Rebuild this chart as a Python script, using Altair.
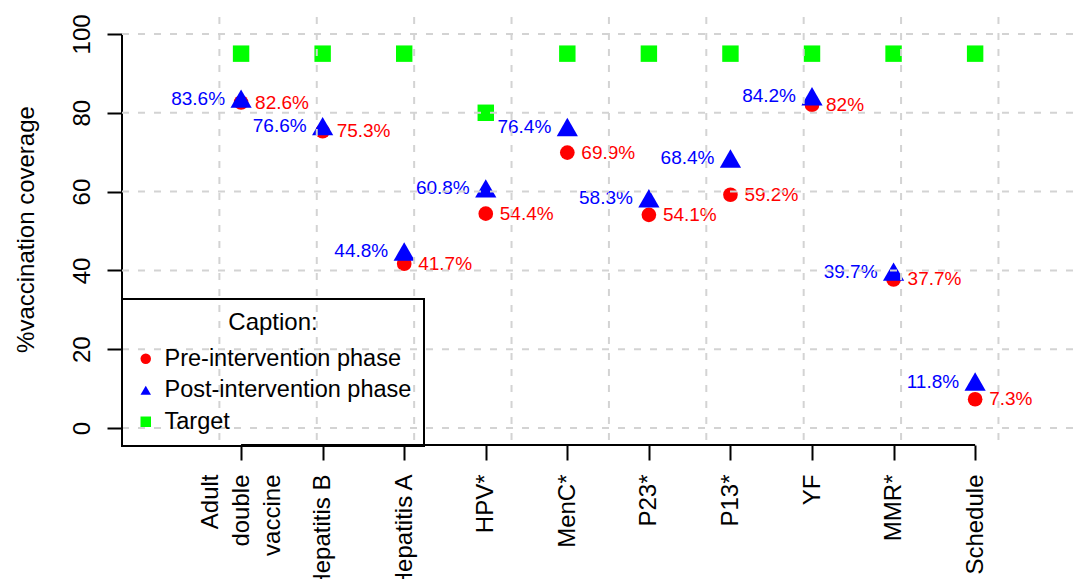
import json
import altair as alt
import numpy as np
import pandas as pd

FONT = "Liberation Sans"

CATEGORIES = ["Adult\ndouble\nvaccine", "Hepatitis B", "Hepatitis A", "HPV*", "MenC*",
              "P23*", "P13*", "YF", "MMR*", "Schedule"]
PRE = [82.6, 75.3, 41.7, 54.4, 69.9, 54.1, 59.2, 82.0, 37.7, 7.3]
POST = [83.6, 76.6, 44.8, 60.8, 76.4, 58.3, 68.4, 84.2, 39.7, 11.8]
TARGET = [95, 95, 95, 80, 95, 95, 95, 95, 95, 95]
SERIES = ["Pre-intervention phase", "Post-intervention phase", "Target"]
COLORS = ["#ff0000", "#0000ff", "#00ff00"]
SHAPES = ["circle", "triangle-up", "square"]
SIZES = [215, 450, 270]
Y_TICKS = [0, 20, 40, 60, 80, 100]
X_TICKS = list(range(1, len(CATEGORIES) + 1))

# full R plotting range (x) and the visible part of it
R_XRANGE = (-0.46, 11.48)
X_DOMAIN = [-0.46, 11.20]
Y_DOMAIN = [-4.3, 104.3]
GRID_X = list(np.linspace(R_XRANGE[0], R_XRANGE[1], 11)[1:-1])
LINE_H = 31

rows = []
for name, vals in zip(SERIES, [PRE, POST, TARGET]):
    for i, v in enumerate(vals):
        rows.append({"pos": i + 1, "value": v, "series": name, "label": f"{v:g}%"})
df = pd.DataFrame(rows)

label_lines = [c.split("\n") if "\n" in c else c for c in CATEGORIES]
label_expr = json.dumps(label_lines) + "[datum.value - 1]"
# centre multi-line labels on their tick
n_lines = [len(c.split("\n")) for c in CATEGORIES]
offs = [-(n - 1) / 2 * LINE_H for n in n_lines]

x_scale = alt.Scale(domain=X_DOMAIN, nice=False, zero=False)
y_scale = alt.Scale(domain=Y_DOMAIN, nice=False, zero=False)

x_axis = alt.Axis(
    title=None, values=X_TICKS, labelExpr=label_expr, domain=False, grid=False,
    tickSize=15, tickWidth=2, tickColor="black",
    labelAngle=270, labelAlign="right", labelBaseline="middle", labelPadding=14,
    labelOffset={"condition": {"test": "datum.value == 1", "value": offs[0]}, "value": 0},
    labelFont=FONT, labelFontSize=24, labelColor="black", labelLineHeight=LINE_H,
    labelOverlap=False, labelFlush=False, labelLimit=400,
)
y_axis = alt.Axis(
    title="%vaccination coverage", values=Y_TICKS, domain=False, grid=False,
    tickSize=15, tickWidth=2, tickColor="black",
    labelAngle=270, labelAlign="center", labelBaseline="alphabetic", labelPadding=18,
    labelFont=FONT, labelFontSize=24, labelColor="black",
    labelOverlap=False, labelFlush=False,
    titleFont=FONT, titleFontSize=24, titleFontWeight="normal", titleColor="black",
    titleAngle=270, titleX=-89, titleY=212, titleAlign="center", titleBaseline="alphabetic",
)

legend = alt.Legend(
    title="Caption:", orient="none", legendX=0, legendY=282,
    strokeColor="black", padding=12,
    titleFont=FONT, titleFontSize=24, titleFontWeight="normal", titleColor="black",
    titleAnchor="middle", titlePadding=12,
    labelFont=FONT, labelFontSize=23.5, labelColor="black", labelLimit=400, labelOffset=7,
    symbolSize=110, symbolStrokeWidth=0, rowPadding=6.5,
)

X = alt.X("pos:Q", scale=x_scale, axis=x_axis)
Y = alt.Y("value:Q", scale=y_scale, axis=y_axis)
C = alt.Color("series:N", scale=alt.Scale(domain=SERIES, range=COLORS), legend=legend)
S = alt.Shape("series:N", scale=alt.Scale(domain=SERIES, range=SHAPES), legend=legend)

point_layers = [
    alt.Chart(df[df.series == name]).mark_point(
        filled=True, opacity=1, strokeWidth=0, size=size
    ).encode(x=X, y=Y, color=C, shape=S)
    for name, size in zip(SERIES, SIZES)
]

post_text = alt.Chart(df[df.series == SERIES[1]]).mark_text(
    align="right", baseline="middle", dx=-16, font=FONT, fontSize=19, color="#0000ff"
).encode(x=X, y=Y, text="label:N")

pre_text = alt.Chart(df[df.series == SERIES[0]]).mark_text(
    align="left", baseline="middle", dx=14, font=FONT, fontSize=19, color="#ff0000"
).encode(x=X, y=Y, text="label:N")

grid_style = dict(color="#d3d3d3", strokeWidth=2, strokeDash=[7, 9])
hgrid = alt.Chart(pd.DataFrame({"value": Y_TICKS})).mark_rule(**grid_style).encode(y=Y)
vgrid = alt.Chart(pd.DataFrame({"pos": GRID_X})).mark_rule(**grid_style).encode(x=X)

yline = alt.Chart(pd.DataFrame({"value": [Y_TICKS[0]], "v2": [Y_TICKS[-1]]})).mark_rule(
    color="black", strokeWidth=2
).encode(x=alt.value(0), y=Y, y2="v2:Q")
xline = alt.Chart(pd.DataFrame({"pos": [X_TICKS[0]], "p2": [X_TICKS[-1]]})).mark_rule(
    color="black", strokeWidth=2
).encode(y=alt.value(428), x=X, x2="p2:Q")

chart = alt.layer(yline, xline, *point_layers, post_text, pre_text, hgrid, vgrid).properties(
    width=951, height=428,
    autosize=alt.AutoSizeParams(type="none"),
    padding={"left": 114, "top": 9, "right": 0, "bottom": 134},
    background="white",
).configure_view(stroke=None).configure_legend(strokeWidth=2)

chart.save("out.html", embed_options={"renderer": "svg", "actions": False})
